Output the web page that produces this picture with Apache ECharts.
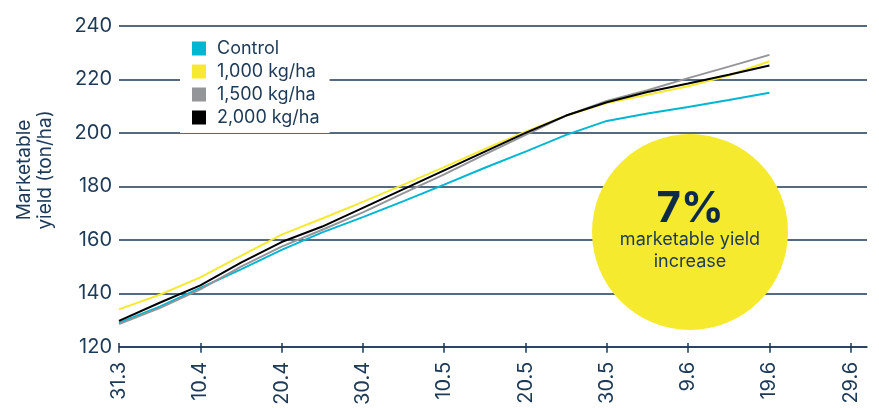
<!DOCTYPE html>
<html>
<head>
<meta charset="utf-8">
<script src="https://cdn.jsdelivr.net/npm/echarts@6/dist/echarts.min.js"></script>
<style>html,body{margin:0;padding:0;background:#fff}#c{width:879px;height:408px}</style>
</head>
<body>
<div id="c"></div>
<script>
// Days since 31 March
const days = [0, 5, 10, 15, 20, 25, 30, 35, 40, 45, 50, 55, 60, 65, 70, 75, 80];
const control  = [129, 135, 142, 149, 156.3, 162.8, 168.5, 174.5, 180.7, 187, 193, 199.3, 204.5, 207.3, 209.7, 212.3, 215];
const kg1000   = [134, 139.5, 146, 154, 162, 168, 174.2, 180.7, 187.2, 194, 200.5, 206.5, 211.2, 214.3, 217.5, 221.5, 226.8];
const kg1500   = [128.5, 134.5, 141.5, 150, 157.5, 163.8, 170.3, 177.5, 184.5, 192, 199.3, 206.5, 212, 216, 220.5, 224.8, 229.2];
const kg2000   = [129.7, 136.5, 143, 151.5, 159.2, 165, 172, 179, 186, 193, 200, 206.5, 211.5, 215.3, 218.5, 221.8, 225.2];
const tickDays = [0, 10, 20, 30, 40, 50, 60, 70, 80, 90];
const tickLabels = ['31.3', '10.4', '20.4', '30.4', '10.5', '20.5', '30.5', '9.6', '19.6', '29.6'];
const seriesNames = ['Control', '1,000 kg/ha', '1,500 kg/ha', '2,000 kg/ha'];
const seriesColors = ['#00b6d3', '#f6ea2f', '#949599', '#000000'];

const navy = '#1c3957';
const font = 'Inter';
const pair = arr => days.map((d, i) => [d, arr[i]]);
const allData = [control, kg1000, kg1500, kg2000];

const chart = echarts.init(document.getElementById('c'), null, {renderer: 'canvas'});
const labelOf = v => { const i = tickDays.indexOf(v); return i >= 0 ? tickLabels[i] : ''; };

chart.setOption({
  animation: false,
  textStyle: {fontFamily: font},
  grid: {left: 119, right: 12, top: 26, bottom: 59, containLabel: false},
  legend: {
    orient: 'vertical', left: 180, top: 35,
    padding: [4, 10, 6, 12],
    backgroundColor: '#ffffff',
    itemWidth: 14, itemHeight: 14, itemGap: 4,
    icon: 'rect',
    textStyle: {fontFamily: font, fontSize: 18, lineHeight: 19, color: navy, padding: [0, 0, 0, 6]},
    data: seriesNames
  },
  xAxis: [{
    type: 'value', min: 0, max: 92,
    axisLine: {show: true, lineStyle: {color: navy, width: 1.5}},
    axisTick: {show: true, length: 6, lineStyle: {color: navy, width: 1.5}, customValues: tickDays},
    axisLabel: {customValues: tickDays, formatter: labelOf, rotate: 90, margin: 15,
      fontFamily: font, fontSize: 20, color: navy},
    splitLine: {show: false}
  }, {
    type: 'value', min: 0, max: 92, position: 'top', offset: -323,
    axisLine: {show: false},
    axisTick: {show: true, length: 6, lineStyle: {color: navy, width: 1.5}, customValues: tickDays},
    axisLabel: {show: false},
    splitLine: {show: false}
  }],
  yAxis: {
    type: 'value', min: 120, max: 240, interval: 20,
    axisLine: {show: false}, axisTick: {show: false},
    axisLabel: {margin: 7, fontFamily: font, fontSize: 20, color: navy},
    splitLine: {show: true, lineStyle: {color: navy, width: 1.5}}
  },
  series: seriesNames.map((n, i) => ({
    name: n, type: 'line', data: pair(allData[i]),
    showSymbol: false, symbol: 'none',
    smooth: false,
    lineStyle: {color: seriesColors[i], width: 2},
    itemStyle: {color: seriesColors[i]},
    z: 3 + i
  })),
  graphic: [
    {type: 'text', x: 35, y: 170, rotation: Math.PI / 2, z: 10,
      style: {text: 'Marketable\nyield (ton/ha)', fill: navy, font: '19px Inter',
        align: 'center', verticalAlign: 'middle', lineHeight: 21}},
    {type: 'circle', shape: {cx: 690, cy: 232, r: 98}, z: 50,
      style: {fill: '#f6ea2f'}},
    {type: 'text', x: 690, y: 209, z: 51,
      style: {text: '7%', fill: '#0d2a47', font: 'bold 42px Inter', align: 'center', verticalAlign: 'middle'}},
    {type: 'text', x: 690, y: 240, z: 51,
      style: {text: 'marketable yield', fill: navy, font: '18px Inter', align: 'center', verticalAlign: 'middle'}},
    {type: 'text', x: 690, y: 262, z: 51,
      style: {text: 'increase', fill: navy, font: '18px Inter', align: 'center', verticalAlign: 'middle'}}
  ]
});
</script>
</body>
</html>
